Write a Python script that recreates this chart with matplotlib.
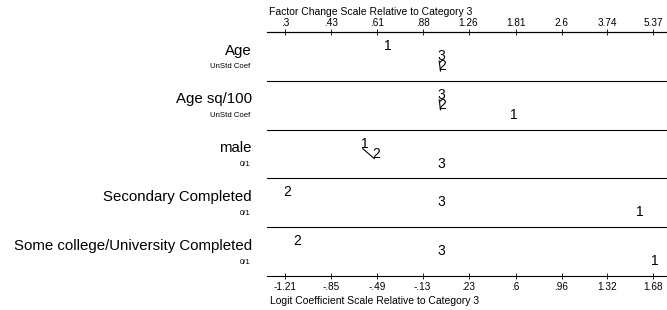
import matplotlib
matplotlib.use('Agg')
import matplotlib.pyplot as plt
import matplotlib.transforms as mtransforms
import numpy as np

plt.rcParams['font.family'] = ['Liberation Sans', 'DejaVu Sans']

# ---- data ----
variables = ["Age", "Age sq/100", "male", "Secondary Completed",
             "Some college/University Completed"]
var_types = ["UnStd Coef", "UnStd Coef", "0/1", "0/1", "0/1"]
categories = ["1", "2", "3"]
coef_cat1 = [-0.42, 0.57, -0.60, 1.56, 1.68]
coef_cat2 = [0.01, 0.01, -0.51, -1.21, -1.13]
coef_cat3 = [0.0, 0.0, 0.0, 0.0, 0.0]
# pairs of categories that are not significantly different (connected)
linked_pairs = [("3", "2"), ("3", "2"), ("1", "2"), None, None]
logit_ticks = [-1.21, -0.85, -0.49, -0.13, 0.23, 0.6, 0.96, 1.32, 1.68]
logit_labels = ["-1.21", "-.85", "-.49", "-.13", ".23", ".6", ".96", "1.32", "1.68"]
factor_labels = [".3", ".43", ".61", ".88", "1.26", "1.81", "2.6", "3.74", "5.37"]
top_title = "Factor Change Scale Relative to Category 3"
bottom_title = "Logit Coefficient Scale Relative to Category 3"

W, H = 667, 310
fig = plt.figure(figsize=(W / 100, H / 100), dpi=100)
ax = fig.add_axes([266.7 / W, 34 / H, (W - 266.7) / W, 244 / H])
ax.set_xlim(-1.354, 1.788)
ax.set_ylim(len(variables), 0)

band_h = 48.8
trans = mtransforms.blended_transform_factory(fig.transFigure, ax.transData)
for i, var in enumerate(variables):
    vals = [coef_cat1[i], coef_cat2[i], coef_cat3[i]]
    order = np.argsort(vals, kind='stable')
    ypos = {}
    xpos = {}
    for rank, idx in enumerate(order):
        cat = categories[idx]
        xpos[cat] = vals[idx]
        ypos[cat] = i + (19 + 10 * rank) / band_h
    pair = linked_pairs[i]
    if pair is not None:
        a, b = pair
        ax.plot([xpos[a], xpos[b]], [ypos[a], ypos[b]], color='black', lw=0.8, zorder=2)
    for cat in categories:
        ax.annotate(cat, (xpos[cat], ypos[cat]), xytext=(1.4, 3.6),
                    textcoords='offset points', ha='center', va='center',
                    fontsize=10, color='black', zorder=3)
    # left labels
    ax.text(252 / W, i + 18.5 / band_h, var, transform=trans, ha='right', va='center',
            fontsize=10.8, clip_on=False)
    ax.text(250.5 / W, i + 35 / band_h, var_types[i], transform=trans, ha='right',
            va='center', fontsize=5.6, clip_on=False)

for k in range(1, len(variables)):
    ax.axhline(k, color='black', lw=0.8, zorder=1)

for s in ['left', 'right']:
    ax.spines[s].set_visible(False)
for s in ['top', 'bottom']:
    ax.spines[s].set_linewidth(0.8)

ax.set_yticks([])
ax.set_xticks(logit_ticks, logit_labels)
ax.tick_params(axis='x', direction='inout', length=4, width=0.6, pad=2.5, labelsize=7.2)

sec = ax.secondary_xaxis('top')
sec.set_xticks(logit_ticks, factor_labels)
sec.tick_params(axis='x', direction='inout', length=4, width=0.6, pad=0.6, labelsize=7.2)
sec.spines['top'].set_linewidth(0.8)

fig.text(269 / W, 1 - 12 / H, top_title, ha='left', va='center', fontsize=7.5)
fig.text(270 / W, 1 - 300.5 / H, bottom_title, ha='left', va='center', fontsize=7.5)

fig.savefig('out.png', dpi=100)
